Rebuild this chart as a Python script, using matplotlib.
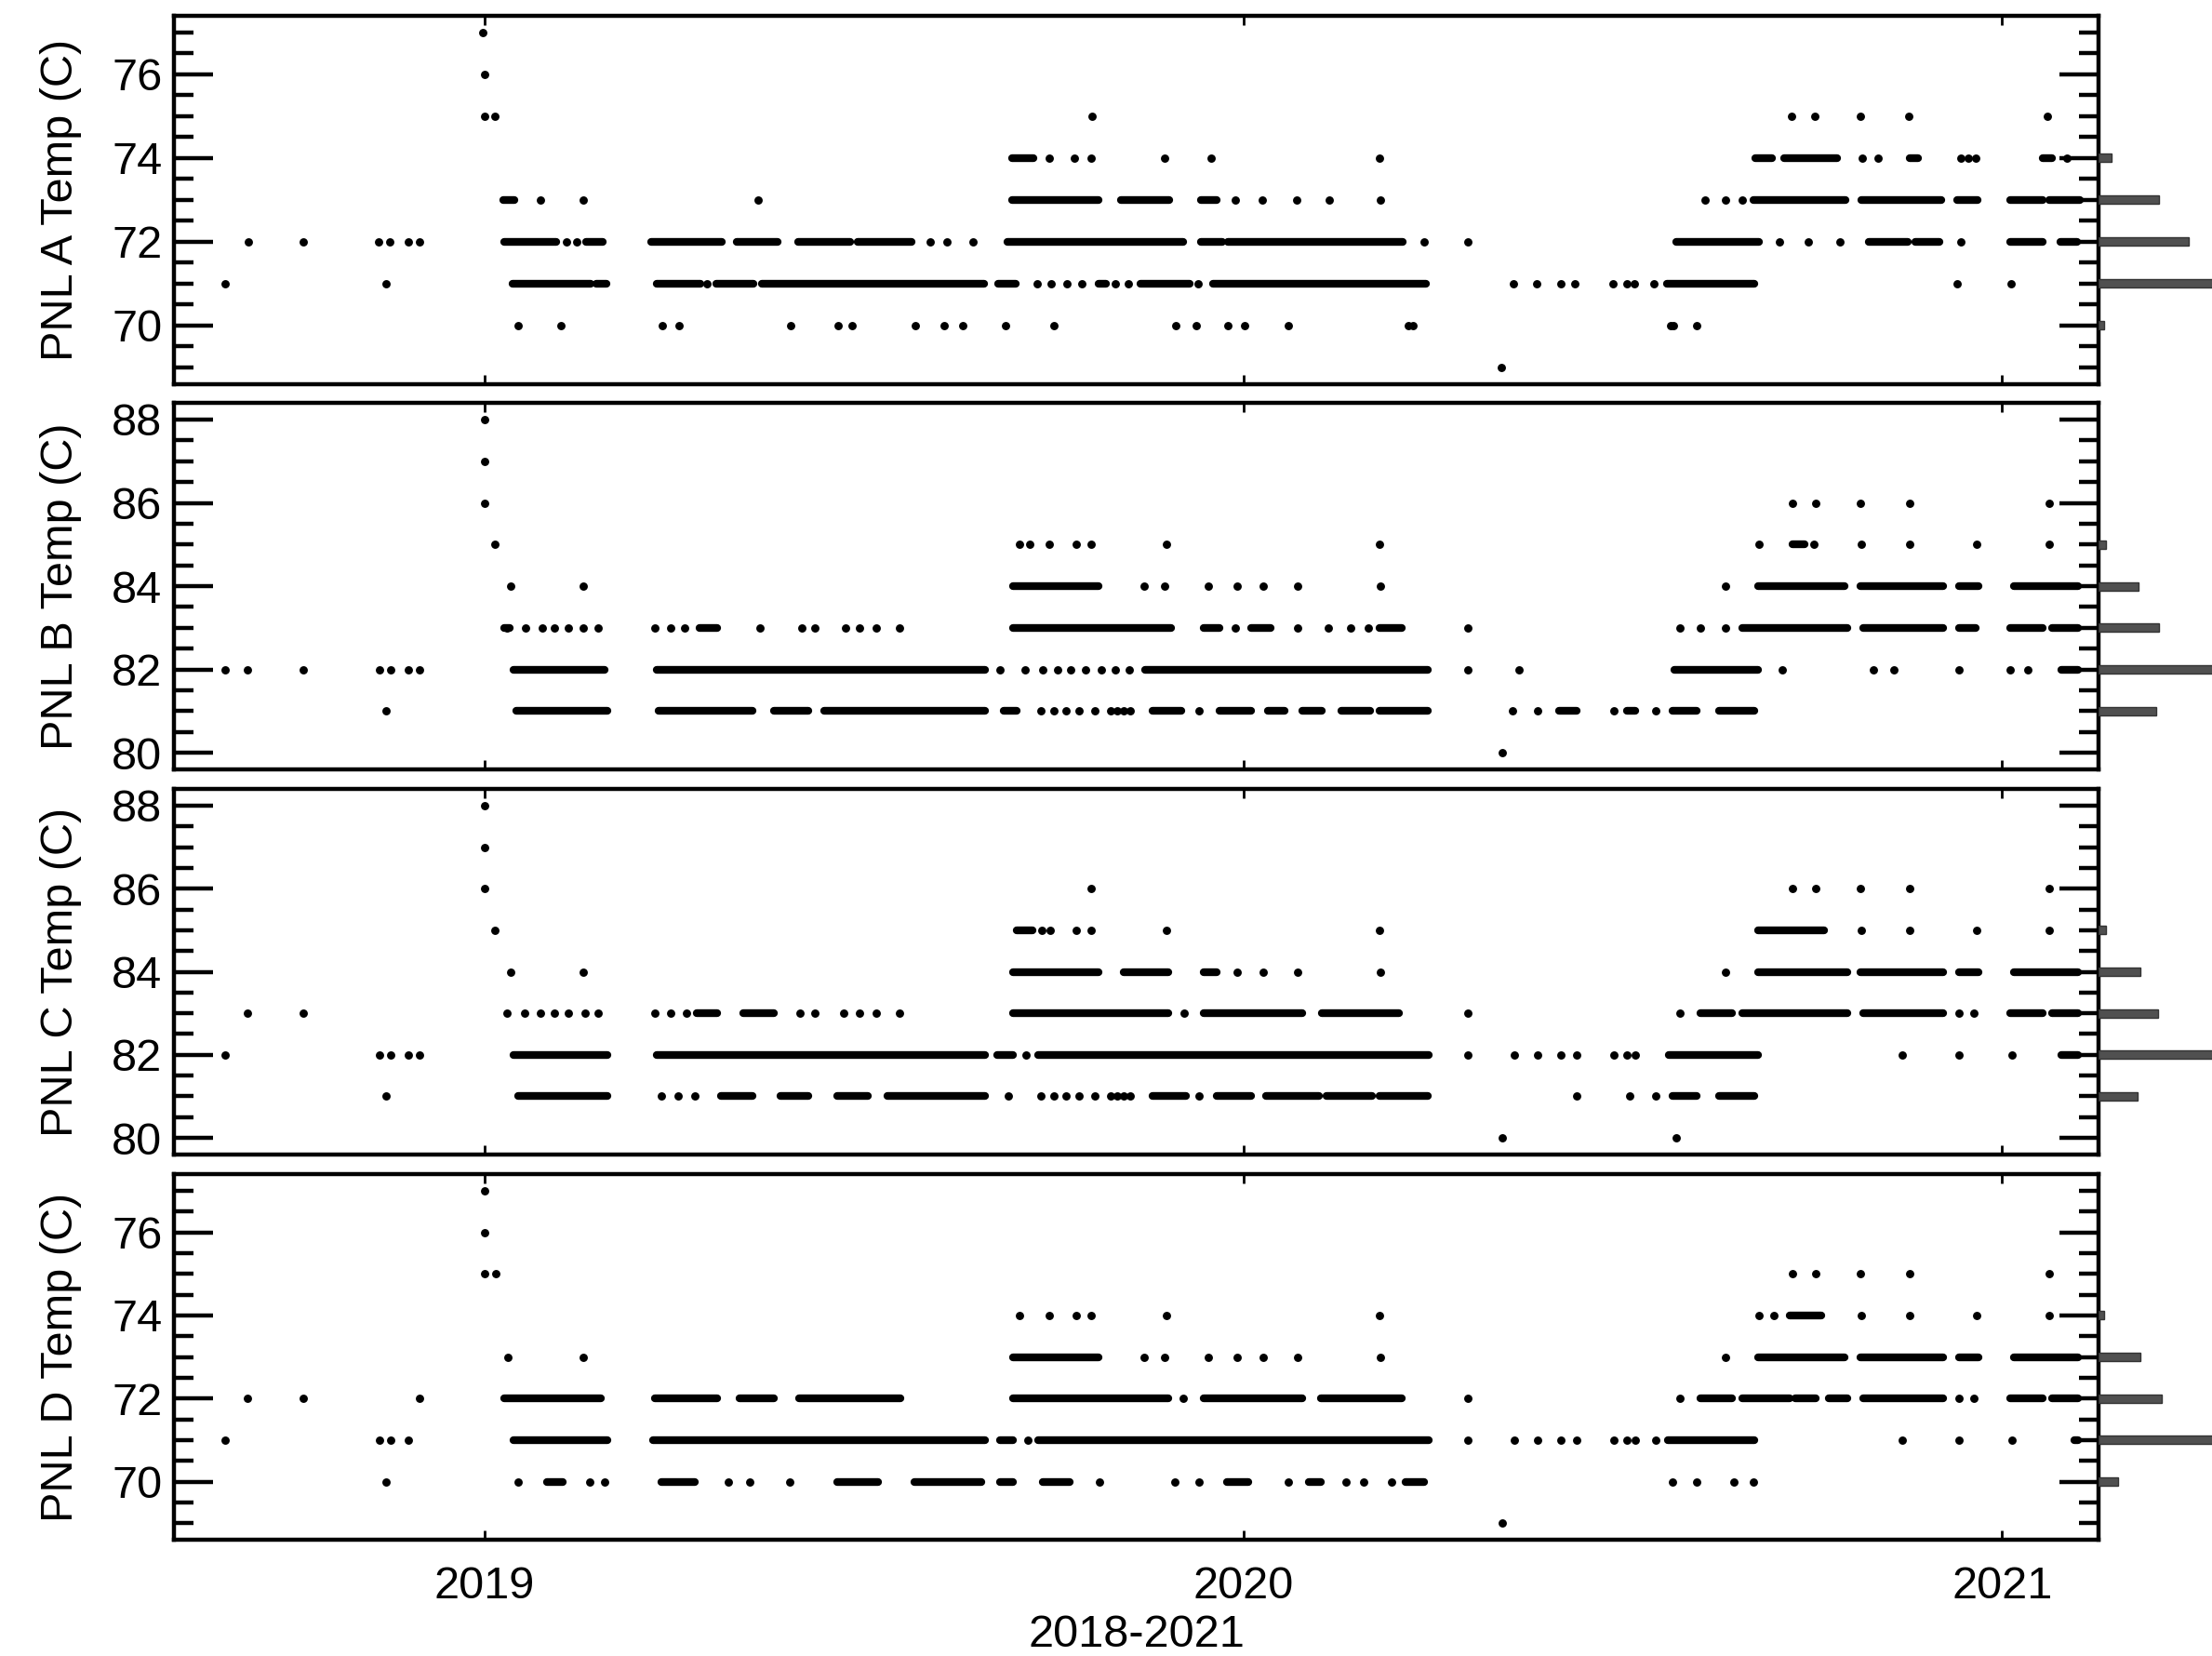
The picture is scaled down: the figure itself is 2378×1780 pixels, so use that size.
import matplotlib
matplotlib.use("Agg")
import matplotlib.pyplot as plt
from matplotlib.ticker import MultipleLocator

plt.rcParams['font.family'] = ['Liberation Sans', 'DejaVu Sans']

# ---------------- data (time in decimal years) ----------------
YEAR_TICKS = [2019, 2020, 2021]
YEAR_LABELS = ['2019', '2020', '2021']
X_RANGE = (2018.591, 2021.127)
XLABEL = '2018-2021'
YLABELS = ['PNL A Temp (C)', 'PNL B Temp (C)', 'PNL C Temp (C)', 'PNL D Temp (C)']
Y_RANGES = [(68.6, 77.4), (79.6, 88.4), (79.6, 88.4), (68.6, 77.4)]

A_DOTS = {
    77: [2018.998],
    76: [2019.000],
    75: [2019.000, 2019.014, 2019.801, 2020.723, 2020.753, 2020.813, 2020.877, 2021.060],
    74: [2019.744, 2019.778, 2019.800, 2019.896, 2019.958, 2020.179, 2020.816, 2020.837,
         2020.945, 2020.955, 2020.965, 2021.085],
    73: [2019.074, 2019.131, 2019.361, 2019.990, 2020.025, 2020.070, 2020.113, 2020.181,
         2020.609, 2020.635, 2020.658],
    72: [2018.689, 2018.762, 2018.861, 2018.876, 2018.900, 2018.915, 2019.108, 2019.122,
         2019.588, 2019.610, 2019.644, 2020.238, 2020.296, 2020.707, 2020.745, 2020.786, 2020.945],
    71: [2018.659, 2018.870, 2019.294, 2019.729, 2019.747, 2019.768, 2019.787, 2019.831,
         2019.849, 2019.941, 2020.356, 2020.387, 2020.418, 2020.437, 2020.487, 2020.505,
         2020.515, 2020.541, 2020.941, 2021.012],
    70: [2019.045, 2019.101, 2019.235, 2019.257, 2019.404, 2019.466, 2019.485, 2019.568,
         2019.606, 2019.631, 2019.687, 2019.751, 2019.911, 2019.938, 2019.980, 2020.002,
         2020.060, 2020.217, 2020.224, 2020.563, 2020.567, 2020.598],
    69: [2020.340],
}
A_RUNS = {
    74: [(2019.696, 2019.724), (2020.675, 2020.697), (2020.713, 2020.782), (2020.878, 2020.889),
         (2021.054, 2021.066)],
    73: [(2019.025, 2019.040), (2019.696, 2019.809), (2019.839, 2019.902), (2019.944, 2019.965),
         (2020.672, 2020.793), (2020.814, 2020.920), (2020.941, 2020.968), (2021.011, 2021.054),
         (2021.062, 2021.102)],
    72: [(2019.026, 2019.095), (2019.134, 2019.156), (2019.220, 2019.313), (2019.333, 2019.387),
         (2019.413, 2019.482), (2019.492, 2019.563), (2019.689, 2019.921), (2019.944, 2019.973),
         (2019.980, 2020.210), (2020.570, 2020.680), (2020.824, 2020.876), (2020.886, 2020.917),
         (2021.010, 2021.054), (2021.077, 2021.099)],
    71: [(2019.037, 2019.140), (2019.148, 2019.161), (2019.227, 2019.285), (2019.306, 2019.355),
         (2019.366, 2019.659), (2019.677, 2019.700), (2019.809, 2019.819), (2019.865, 2019.929),
         (2019.960, 2020.241), (2020.558, 2020.673)],
}
A_HIST = {70: 6, 71: 150, 72: 97, 73: 65, 74: 14}

B_DOTS = {
    88: [2019.000],
    87: [2019.000],
    86: [2019.001, 2020.724, 2020.754, 2020.813, 2020.878, 2021.062],
    85: [2019.014, 2019.705, 2019.719, 2019.744, 2019.780, 2019.800, 2019.899, 2020.180,
         2020.680, 2020.752, 2020.815, 2020.878, 2020.966, 2021.062],
    84: [2019.035, 2019.131, 2019.869, 2019.897, 2019.954, 2019.992, 2020.026, 2020.072,
         2020.181, 2020.635],
    83: [2019.030, 2019.055, 2019.076, 2019.092, 2019.111, 2019.131, 2019.150, 2019.225,
         2019.245, 2019.264, 2019.363, 2019.419, 2019.436, 2019.476, 2019.495, 2019.516,
         2019.547, 2019.990, 2020.072, 2020.112, 2020.142, 2020.165, 2020.296, 2020.575,
         2020.602, 2020.635],
    82: [2018.659, 2018.688, 2018.762, 2018.862, 2018.877, 2018.900, 2018.915, 2019.680,
         2019.713, 2019.736, 2019.755, 2019.773, 2019.792, 2019.813, 2019.831, 2019.850,
         2020.296, 2020.363, 2020.710, 2020.830, 2020.857, 2020.943, 2021.011, 2021.034],
    81: [2018.871, 2019.734, 2019.751, 2019.767, 2019.784, 2019.804, 2019.825, 2019.842,
         2019.834, 2019.851, 2019.942, 2020.355, 2020.388, 2020.488, 2020.543],
    80: [2020.341],
}
B_RUNS = {
    85: [(2020.724, 2020.740)],
    84: [(2019.697, 2019.809), (2020.678, 2020.792), (2020.813, 2020.922), (2020.943, 2020.969),
         (2021.015, 2021.100)],
    83: [(2019.026, 2019.034), (2019.283, 2019.307), (2019.697, 2019.905), (2019.948, 2019.969),
         (2020.011, 2020.036), (2020.180, 2020.209), (2020.657, 2020.796), (2020.817, 2020.922),
         (2020.943, 2020.965), (2021.011, 2021.053), (2021.066, 2021.100)],
    82: [(2019.038, 2019.158), (2019.227, 2019.660), (2019.871, 2020.243), (2020.568, 2020.678),
         (2021.078, 2021.100)],
    81: [(2019.042, 2019.162), (2019.230, 2019.353), (2019.382, 2019.427), (2019.448, 2019.660),
         (2019.684, 2019.701), (2019.880, 2019.918), (2019.969, 2020.011), (2020.032, 2020.055),
         (2020.078, 2020.104), (2020.129, 2020.167), (2020.180, 2020.243), (2020.416, 2020.440),
         (2020.506, 2020.517), (2020.566, 2020.597), (2020.627, 2020.673)],
}
B_HIST = {81: 62, 82: 150, 83: 65, 84: 43, 85: 8}

C_DOTS = {
    88: [2019.000],
    87: [2019.000],
    86: [2019.001, 2019.800, 2020.724, 2020.754, 2020.813, 2020.878, 2021.062],
    85: [2019.014, 2019.735, 2019.746, 2019.780, 2019.800, 2019.899, 2020.180, 2020.815,
         2020.878, 2020.966, 2021.062],
    84: [2019.035, 2019.131, 2019.992, 2020.026, 2020.072, 2020.181, 2020.635],
    83: [2018.688, 2018.762, 2019.030, 2019.053, 2019.074, 2019.092, 2019.111, 2019.133,
         2019.150, 2019.225, 2019.245, 2019.267, 2019.416, 2019.436, 2019.473, 2019.495,
         2019.516, 2019.547, 2019.922, 2020.296, 2020.576, 2020.943, 2020.963],
    82: [2018.659, 2018.862, 2018.877, 2018.900, 2018.915, 2019.714, 2020.296, 2020.357,
         2020.388, 2020.419, 2020.439, 2020.488, 2020.506, 2020.517, 2020.868, 2020.943, 2021.013],
    81: [2018.871, 2019.233, 2019.255, 2019.278, 2019.691, 2019.734, 2019.751, 2019.767,
         2019.784, 2019.804, 2019.825, 2019.842, 2019.834, 2019.851, 2019.942, 2020.439,
         2020.509, 2020.543],
    80: [2020.341, 2020.570],
}
C_RUNS = {
    85: [(2019.701, 2019.722), (2020.678, 2020.766)],
    84: [(2019.697, 2019.809), (2019.842, 2019.901), (2019.948, 2019.965), (2020.678, 2020.796),
         (2020.813, 2020.922), (2020.943, 2020.969), (2021.015, 2021.100)],
    83: [(2019.280, 2019.307), (2019.341, 2019.382), (2019.697, 2019.901), (2019.948, 2020.078),
         (2020.104, 2020.205), (2020.602, 2020.644), (2020.657, 2020.796), (2020.817, 2020.922),
         (2021.011, 2021.053), (2021.066, 2021.100)],
    82: [(2019.038, 2019.162), (2019.227, 2019.660), (2019.676, 2019.697), (2019.730, 2020.245),
         (2020.561, 2020.678), (2021.078, 2021.100)],
    81: [(2019.045, 2019.162), (2019.312, 2019.353), (2019.390, 2019.427), (2019.465, 2019.506),
         (2019.531, 2019.660), (2019.880, 2019.925), (2019.965, 2020.011), (2020.030, 2020.100),
         (2020.110, 2020.170), (2020.180, 2020.243), (2020.566, 2020.597), (2020.627, 2020.673)],
}
C_HIST = {81: 42, 82: 150, 83: 64, 84: 45, 85: 8}

D_DOTS = {
    77: [2019.000],
    76: [2019.000],
    75: [2019.001, 2019.015, 2020.724, 2020.754, 2020.813, 2020.878, 2021.062],
    74: [2019.705, 2019.744, 2019.780, 2019.800, 2019.899, 2020.180, 2020.680, 2020.699,
         2020.815, 2020.878, 2020.966, 2021.062],
    73: [2019.031, 2019.131, 2019.869, 2019.897, 2019.954, 2019.992, 2020.026, 2020.072,
         2020.181, 2020.635],
    72: [2018.688, 2018.762, 2018.915, 2019.921, 2020.296, 2020.576, 2020.943, 2020.963],
    71: [2018.659, 2018.862, 2018.877, 2018.900, 2019.716, 2020.296, 2020.357, 2020.388,
         2020.419, 2020.439, 2020.488, 2020.506, 2020.517, 2020.543, 2020.868, 2020.943, 2021.013],
    70: [2018.871, 2019.045, 2019.139, 2019.158, 2019.321, 2019.350, 2019.403, 2019.811,
         2019.910, 2019.942, 2020.060, 2020.136, 2020.159, 2020.195, 2020.566, 2020.597,
         2020.646, 2020.672],
    69: [2020.341],
}
D_RUNS = {
    74: [(2020.720, 2020.762)],
    73: [(2019.697, 2019.809), (2020.678, 2020.792), (2020.813, 2020.922), (2020.943, 2020.969),
         (2021.015, 2021.100)],
    72: [(2019.026, 2019.154), (2019.225, 2019.307), (2019.336, 2019.382), (2019.415, 2019.548),
         (2019.697, 2019.901), (2019.948, 2020.078), (2020.102, 2020.209), (2020.602, 2020.644),
         (2020.657, 2020.720), (2020.728, 2020.754), (2020.772, 2020.796), (2020.817, 2020.922),
         (2021.011, 2021.053), (2021.066, 2021.100)],
    71: [(2019.038, 2019.162), (2019.222, 2019.660), (2019.680, 2019.697), (2019.730, 2020.245),
         (2020.559, 2020.673), (2021.095, 2021.100)],
    70: [(2019.082, 2019.103), (2019.233, 2019.278), (2019.465, 2019.519), (2019.567, 2019.655),
         (2019.680, 2019.697), (2019.736, 2019.771), (2019.979, 2020.007), (2020.087, 2020.102),
         (2020.214, 2020.239)],
}
D_HIST = {70: 21, 71: 150, 72: 68, 73: 45, 74: 6}

PANEL_DOTS = [A_DOTS, B_DOTS, C_DOTS, D_DOTS]
PANEL_RUNS = [A_RUNS, B_RUNS, C_RUNS, D_RUNS]
PANEL_HIST = [A_HIST, B_HIST, C_HIST, D_HIST]

# ---------------- figure ----------------
fig = plt.figure(figsize=(23.78, 17.8), dpi=100)
LEFT, WIDTH = 0.0786, 0.8701
BOTTOMS = [0.7680, 0.5354, 0.3028, 0.0702]
HEIGHTS = [0.2225, 0.2213, 0.2208, 0.2208]
FS = 35
DOT_MS = 6.4
RUN_LW = 6.0

for i in range(4):
    ax = fig.add_axes([LEFT, BOTTOMS[i], WIDTH, HEIGHTS[i]])
    for lev, ts in PANEL_DOTS[i].items():
        ax.plot(ts, [lev] * len(ts), linestyle='none', marker='o', ms=DOT_MS,
                color='black', mec='none')
    for lev, segs in PANEL_RUNS[i].items():
        for t0, t1 in segs:
            ax.plot([t0, t1], [lev, lev], '-', lw=RUN_LW, color='black',
                    solid_capstyle='round')
    ax.set_xlim(*X_RANGE)
    ax.set_ylim(*Y_RANGES[i])
    ax.set_xticks(YEAR_TICKS)
    if i == 3:
        ax.set_xticklabels(YEAR_LABELS)
        ax.set_xlabel(XLABEL, fontsize=FS, labelpad=5)
    else:
        ax.set_xticklabels([])
    ax.yaxis.set_major_locator(MultipleLocator(2))
    ax.yaxis.set_minor_locator(MultipleLocator(0.5))
    ax.tick_params(axis='x', which='major', direction='in', length=7, width=2,
                   top=True, bottom=True, labelsize=FS, pad=20)
    ax.tick_params(axis='y', which='major', direction='in', length=30, width=3.2,
                   left=True, right=True, labelsize=FS, pad=9)
    ax.tick_params(axis='y', which='minor', direction='in', length=15, width=3.2,
                   left=True, right=True)
    for sp in ax.spines.values():
        sp.set_linewidth(3.2)
    ax.set_ylabel(YLABELS[i], fontsize=FS)
    ax.yaxis.set_label_coords(-0.048, 0.5)

    # side histogram of the temperature values
    hax = fig.add_axes([LEFT + WIDTH, BOTTOMS[i], 0.06, HEIGHTS[i]])
    levs = list(PANEL_HIST[i].keys())
    cnts = list(PANEL_HIST[i].values())
    hax.barh(levs, cnts, height=0.2, color='#505050', edgecolor='#333333', linewidth=1)
    hax.set_ylim(*Y_RANGES[i])
    hax.set_xlim(0, 142.7)
    hax.axis('off')

fig.savefig('out.png', dpi=100)
